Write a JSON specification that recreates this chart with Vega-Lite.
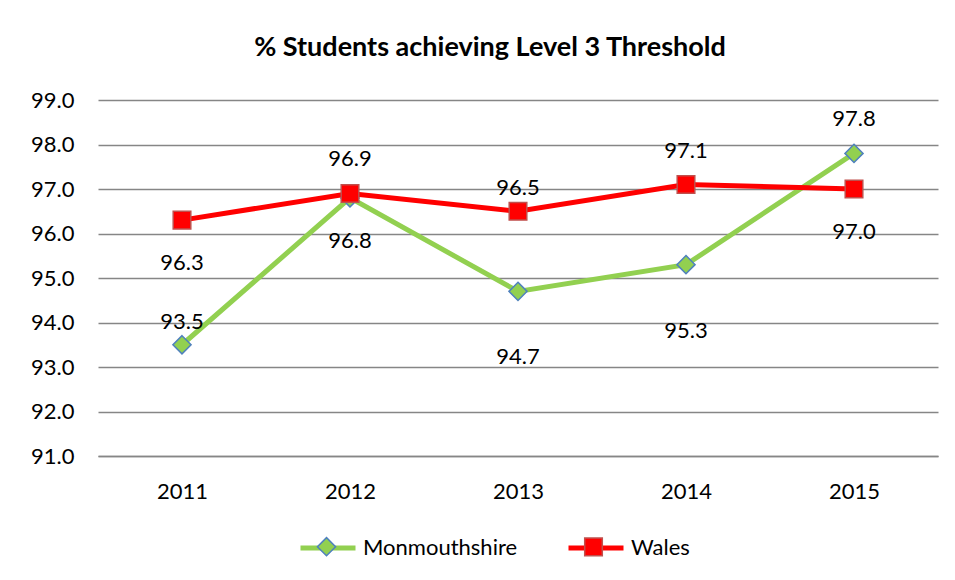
{
  "$schema": "https://vega.github.io/schema/vega-lite/v6.json",
  "width": 840,
  "height": 356,
  "autosize": {"type": "none"},
  "padding": {"left": 98, "top": 100, "right": 17, "bottom": 124},
  "background": "white",
  "title": {
    "text": "% Students achieving Level 3 Threshold",
    "frame": "group",
    "anchor": "middle",
    "offset": 14,
    "baseline": "middle",
    "dx": -28,
    "font": "Lato",
    "fontSize": 27,
    "fontWeight": "bold",
    "color": "#000000"
  },
  "data": {
    "values": [
      {"year": "2011", "series": "Monmouthshire", "value": 93.5},
      {"year": "2012", "series": "Monmouthshire", "value": 96.8},
      {"year": "2013", "series": "Monmouthshire", "value": 94.7},
      {"year": "2014", "series": "Monmouthshire", "value": 95.3},
      {"year": "2015", "series": "Monmouthshire", "value": 97.8},
      {"year": "2011", "series": "Wales", "value": 96.3},
      {"year": "2012", "series": "Wales", "value": 96.9},
      {"year": "2013", "series": "Wales", "value": 96.5},
      {"year": "2014", "series": "Wales", "value": 97.1},
      {"year": "2015", "series": "Wales", "value": 97.0}
    ]
  },
  "encoding": {
    "x": {
      "field": "year",
      "type": "ordinal",
      "scale": {"type": "point", "padding": 0.5},
      "axis": {
        "title": null,
        "labelAngle": 0,
        "domain": true,
        "domainColor": "#868686",
        "domainWidth": 1.3,
        "ticks": false,
        "grid": false,
        "labelFont": "Lato",
        "labelFontSize": 22,
        "labelColor": "#000000",
        "labelPadding": 25
      }
    },
    "y": {
      "field": "value",
      "type": "quantitative",
      "scale": {"domain": [91, 99], "nice": false, "zero": false},
      "axis": {
        "title": null,
        "values": [91, 92, 93, 94, 95, 96, 97, 98, 99],
        "format": ".1f",
        "domain": false,
        "ticks": false,
        "grid": true,
        "gridColor": "#868686",
        "gridWidth": 1.3,
        "labelFont": "Lato",
        "labelFontSize": 22,
        "labelColor": "#000000",
        "labelPadding": 24
      }
    }
  },
  "layer": [
    {
      "mark": {"type": "line", "strokeWidth": 5},
      "encoding": {
        "color": {
          "field": "series",
          "type": "nominal",
          "scale": {"domain": ["Monmouthshire", "Wales"], "range": ["#92D050", "#FF0000"]},
          "legend": {
            "orient": "none",
            "legendX": 200,
            "legendY": 418,
            "direction": "horizontal",
            "title": null,
            "symbolType": "stroke",
            "symbolSize": 3025,
            "symbolStrokeWidth": 5,
            "labelFont": "Lato",
            "labelFontSize": 22,
            "labelColor": "#000000",
            "labelOffset": 5,
            "labelLimit": 400,
            "columnPadding": 40
          }
        }
      }
    },
    {
      "mark": {"type": "point", "filled": true, "strokeWidth": 1.5, "opacity": 1},
      "encoding": {
        "size": {"value": 3025},
        "shape": {
          "field": "series",
          "type": "nominal",
          "scale": {"range": ["M0,-0.33L0.33,0L0,0.33L-0.33,0Z", "M-0.32,-0.32H0.32V0.32H-0.32Z"]},
          "legend": {
            "orient": "none",
            "legendX": 200,
            "legendY": 418,
            "direction": "horizontal",
            "title": null,
            "symbolSize": 3025,
            "symbolStrokeWidth": 1.5,
            "labelExpr": "''",
            "labelFontSize": 22,
            "labelOffset": 5,
            "columnPadding": 205,
            "zindex": 2
          }
        },
        "fill": {
          "field": "series",
          "type": "nominal",
          "scale": {"range": ["#92D050", "#FF0000"]},
          "legend": {
            "orient": "none",
            "legendX": 200,
            "legendY": 418,
            "direction": "horizontal",
            "title": null,
            "symbolSize": 3025,
            "symbolStrokeWidth": 1.5,
            "labelExpr": "''",
            "labelFontSize": 22,
            "labelOffset": 5,
            "columnPadding": 205,
            "zindex": 2
          }
        },
        "stroke": {
          "field": "series",
          "type": "nominal",
          "scale": {"range": ["#4F81BD", "#C0504D"]},
          "legend": {
            "orient": "none",
            "legendX": 200,
            "legendY": 418,
            "direction": "horizontal",
            "title": null,
            "symbolSize": 3025,
            "symbolStrokeWidth": 1.5,
            "labelExpr": "''",
            "labelFontSize": 22,
            "labelOffset": 5,
            "columnPadding": 205,
            "zindex": 2
          }
        }
      }
    },
    {
      "transform": [{"filter": "(datum.series == 'Wales' && (datum.year == '2012' || datum.year == '2014')) || (datum.series == 'Monmouthshire' && datum.year == '2015')"}],
      "mark": {"type": "text", "dy": -34, "baseline": "middle", "font": "Lato", "fontSize": 22, "color": "#000000"},
      "encoding": {"text": {"field": "value", "type": "quantitative", "format": ".1f"}}
    },
    {
      "transform": [{"filter": "(datum.series == 'Wales' && datum.year == '2013') || (datum.series == 'Monmouthshire' && datum.year == '2011')"}],
      "mark": {"type": "text", "dy": -23, "baseline": "middle", "font": "Lato", "fontSize": 22, "color": "#000000"},
      "encoding": {"text": {"field": "value", "type": "quantitative", "format": ".1f"}}
    },
    {
      "transform": [{"filter": "(datum.series == 'Wales' && (datum.year == '2011' || datum.year == '2015')) || (datum.series == 'Monmouthshire' && datum.year == '2012')"}],
      "mark": {"type": "text", "dy": 43, "baseline": "middle", "font": "Lato", "fontSize": 22, "color": "#000000"},
      "encoding": {"text": {"field": "value", "type": "quantitative", "format": ".1f"}}
    },
    {
      "transform": [{"filter": "datum.series == 'Monmouthshire' && (datum.year == '2013' || datum.year == '2014')"}],
      "mark": {"type": "text", "dy": 66, "baseline": "middle", "font": "Lato", "fontSize": 22, "color": "#000000"},
      "encoding": {"text": {"field": "value", "type": "quantitative", "format": ".1f"}}
    }
  ],
  "config": {
    "view": {"stroke": null}
  }
}
